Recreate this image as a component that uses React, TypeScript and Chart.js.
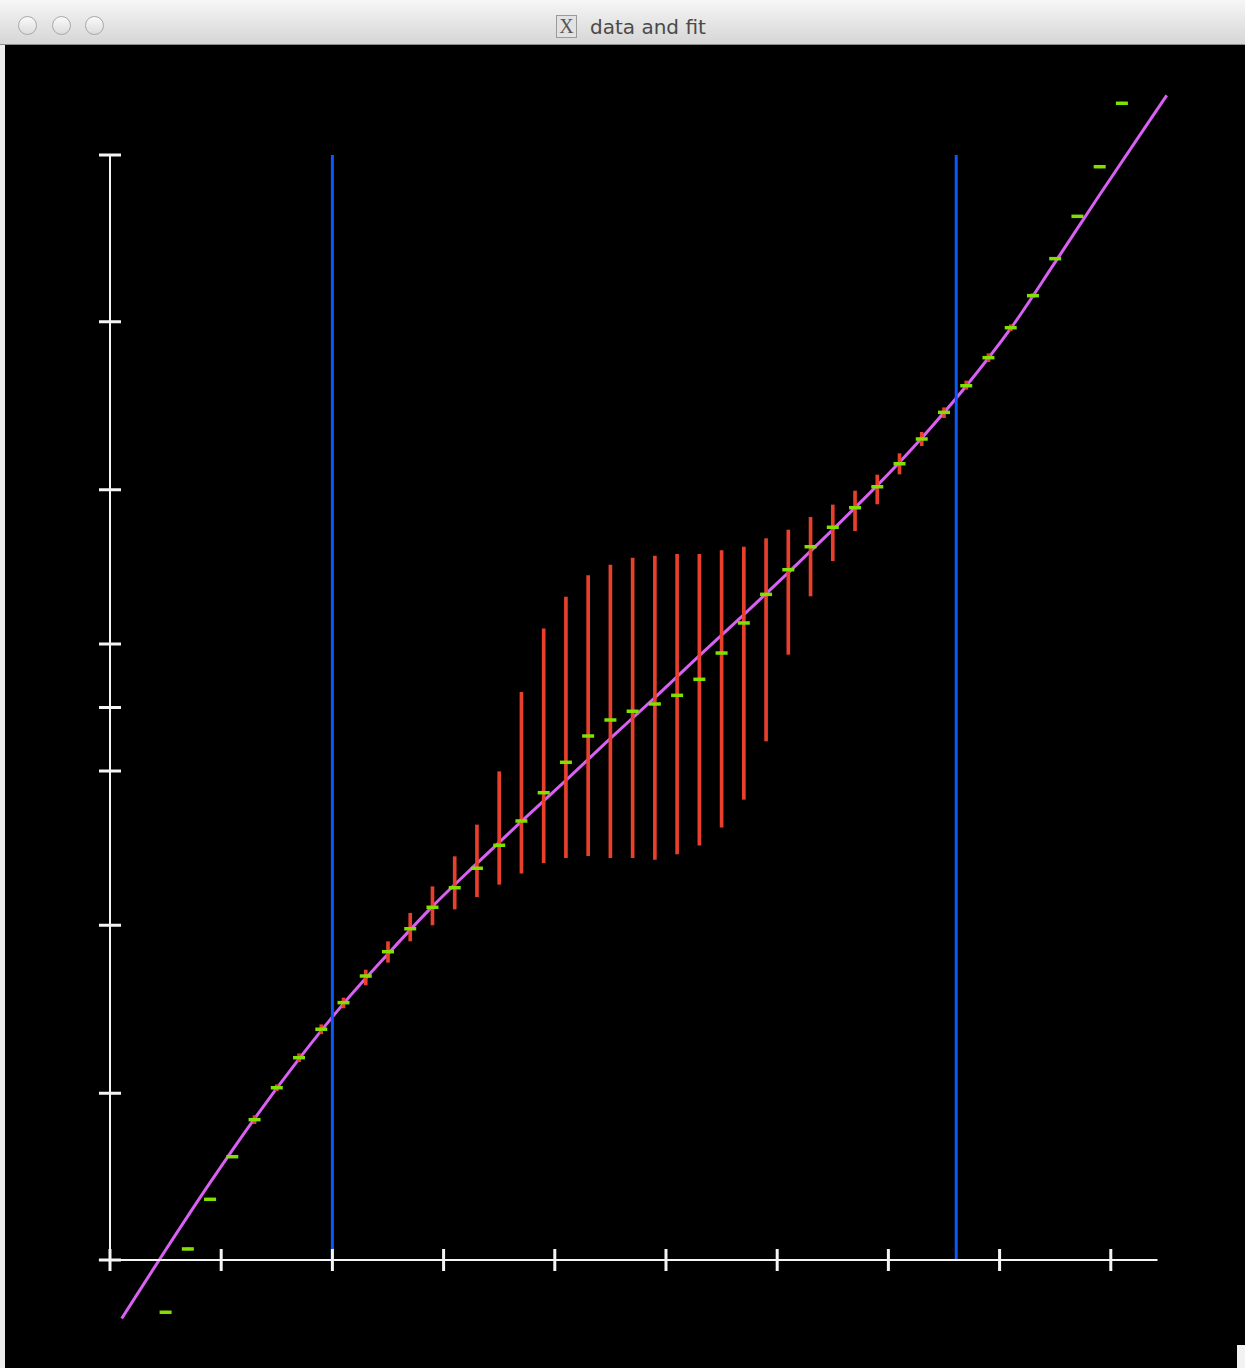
import React, { useEffect, useRef } from "react";
import { Chart, registerables } from "chart.js";

Chart.register(...registerables);

// ---- data (x in tick units, y in axis units; axis runs -5..5) ----
const xValues = [
  0.5, 0.7, 0.9, 1.1, 1.3, 1.5, 1.7, 1.9, 2.1, 2.3, 2.5, 2.7, 2.9, 3.1, 3.3,
  3.5, 3.7, 3.9, 4.1, 4.3, 4.5, 4.7, 4.9, 5.1, 5.3, 5.5, 5.7, 5.9, 6.1, 6.3,
  6.5, 6.7, 6.9, 7.1, 7.3, 7.5, 7.7, 7.9, 8.1, 8.3, 8.5, 8.7, 8.9, 9.1,
];
const yValues = [
  -5.473, -4.9, -4.451, -4.065, -3.73, -3.441, -3.169, -2.912, -2.671, -2.43,
  -2.21, -2.002, -1.808, -1.631, -1.455, -1.247, -1.027, -0.771, -0.496,
  -0.258, -0.113, -0.034, 0.032, 0.11, 0.255, 0.493, 0.765, 1.024, 1.247,
  1.455, 1.631, 1.808, 1.998, 2.206, 2.43, 2.671, 2.912, 3.166, 3.437, 3.727,
  4.062, 4.445, 4.894, 5.468,
];
const errLow = [
  -5.483, -4.91, -4.461, -4.075, -3.766, -3.468, -3.205, -2.953, -2.719,
  -2.511, -2.306, -2.113, -1.968, -1.824, -1.712, -1.6, -1.5, -1.405, -1.359,
  -1.341, -1.359, -1.359, -1.374, -1.326, -1.247, -1.084, -0.831, -0.303,
  0.481, 1.009, 1.329, 1.6, 1.842, 2.113, 2.369, 2.623, 2.88, 3.13, 3.41,
  3.709, 4.052, 4.435, 4.884, 5.458,
];
const errHigh = [
  -5.463, -4.89, -4.441, -4.055, -3.694, -3.414, -3.133, -2.871, -2.629,
  -2.376, -2.119, -1.862, -1.622, -1.35, -1.063, -0.581, 0.138, 0.713, 1.0,
  1.193, 1.29, 1.353, 1.371, 1.386, 1.386, 1.419, 1.452, 1.528, 1.606, 1.721,
  1.833, 1.959, 2.104, 2.297, 2.49, 2.713, 2.955, 3.202, 3.464, 3.745, 4.072,
  4.455, 4.904, 5.478,
];
const fitX = [
  0.105, 0.5, 0.9, 1.3, 1.7, 2.1, 2.5, 2.9, 3.3, 3.7, 4.1, 4.5, 4.9, 5.3, 5.7,
  6.1, 6.5, 6.9, 7.3, 7.7, 8.1, 8.5, 8.9, 9.503,
];
const fitY = [
  -5.53, -4.91, -4.3, -3.72, -3.18, -2.68, -2.23, -1.8, -1.41, -1.03, -0.66,
  -0.28, 0.09, 0.47, 0.84, 1.22, 1.61, 2.01, 2.44, 2.91, 3.43, 4.03, 4.64,
  5.54,
];
const fitRangeX = [2.0, 7.61];
const xTicks = [0, 1, 2, 3, 4, 5, 6, 7, 8, 9];
const yTicks = [-5, -3.49, -1.97, -0.575, 0, 0.575, 1.97, 3.49, 5];
const xAxisExtent = [-0.1, 9.42];
const yAxisExtent = [-5.1, 5];

const axesPlugin = {
  id: "plainAxes",
  afterDatasetsDraw(chart: any) {
    const ctx = chart.ctx;
    const xs = chart.scales.x;
    const ys = chart.scales.y;
    const yBase = ys.getPixelForValue(yTicks[0]);
    const xBase = xs.getPixelForValue(xTicks[0]);
    ctx.save();
    ctx.strokeStyle = "#f4f4f4";
    ctx.lineWidth = 2;
    ctx.beginPath();
    ctx.moveTo(xs.getPixelForValue(xAxisExtent[0]), yBase);
    ctx.lineTo(xs.getPixelForValue(xAxisExtent[1]), yBase);
    ctx.moveTo(xBase, ys.getPixelForValue(yAxisExtent[0]));
    ctx.lineTo(xBase, ys.getPixelForValue(yAxisExtent[1]));
    ctx.stroke();
    ctx.lineWidth = 3;
    ctx.beginPath();
    for (const t of xTicks) {
      const px = xs.getPixelForValue(t);
      ctx.moveTo(px, yBase - 11);
      ctx.lineTo(px, yBase + 11);
    }
    for (const t of yTicks) {
      const py = ys.getPixelForValue(t);
      ctx.moveTo(xBase - 11, py);
      ctx.lineTo(xBase + 11, py);
    }
    ctx.stroke();
    ctx.restore();
  },
};

function ChartCanvas() {
  const ref = useRef<HTMLCanvasElement | null>(null);
  useEffect(() => {
    if (!ref.current) return;
    const points = xValues.map((x, i) => ({ x, y: yValues[i] }));
    const bars = xValues.map((x, i) => ({ x, y: [errLow[i], errHigh[i]] }));
    const fit = fitX.map((x, i) => ({ x, y: fitY[i] }));
    const chart = new Chart(ref.current, {
      type: "scatter",
      data: {
        datasets: [
          {
            type: "scatter",
            label: "data",
            data: points,
            pointStyle: "line",
            pointRadius: 6,
            pointBorderWidth: 3.5,
            pointBorderColor: "#80e000",
            pointBackgroundColor: "#80e000",
            order: 0,
          } as any,
          {
            type: "bar",
            label: "errors",
            data: bars as any,
            backgroundColor: "#e8402c",
            borderWidth: 0,
            barThickness: 3,
            order: 1,
          } as any,
          {
            type: "line",
            label: "low",
            data: [
              { x: fitRangeX[0], y: yTicks[0] },
              { x: fitRangeX[0], y: yTicks[yTicks.length - 1] },
            ],
            borderColor: "#0c58ff",
            borderWidth: 3,
            pointRadius: 0,
            order: 2,
          } as any,
          {
            type: "line",
            label: "high",
            data: [
              { x: fitRangeX[1], y: yTicks[0] },
              { x: fitRangeX[1], y: yTicks[yTicks.length - 1] },
            ],
            borderColor: "#0c58ff",
            borderWidth: 3,
            pointRadius: 0,
            order: 2,
          } as any,
          {
            type: "line",
            label: "fit",
            data: fit,
            borderColor: "#d860f2",
            borderWidth: 3,
            pointRadius: 0,
            cubicInterpolationMode: "monotone",
            order: 3,
          } as any,
        ],
      },
      options: {
        responsive: false,
        maintainAspectRatio: false,
        devicePixelRatio: 1,
        animation: false,
        events: [],
        layout: { padding: 0, autoPadding: false },
        plugins: { legend: { display: false }, tooltip: { enabled: false } },
        scales: {
          x: { type: "linear", min: -0.9442, max: 10.2069, display: false, offset: false },
          y: { type: "linear", min: -5.9774, max: 5.9955, display: false },
        },
      },
      plugins: [axesPlugin],
    });
    return () => chart.destroy();
  }, []);
  return <canvas ref={ref} width={1240} height={1323} style={{ display: "block" }} />;
}

export default function App() {
  const circle = (left: number) => (
    <div
      style={{
        position: "absolute",
        left,
        top: 16,
        width: 19,
        height: 19,
        borderRadius: "50%",
        border: "1px solid #a8a8a8",
        background: "linear-gradient(#fafafa, #dcdcdc)",
        boxSizing: "border-box",
      }}
    />
  );
  return (
    <div
      style={{
        position: "absolute",
        left: 0,
        top: 0,
        width: 1245,
        height: 1368,
        background: "#ededed",
        overflow: "hidden",
      }}
    >
      <div
        style={{
          position: "absolute",
          left: 0,
          top: 0,
          width: 1245,
          height: 44,
          background: "linear-gradient(#f6f6f6, #d6d6d6)",
          borderBottom: "1px solid #8e8e8e",
        }}
      >
        {circle(18)}
        {circle(52)}
        {circle(85)}
        <div
          style={{
            position: "absolute",
            left: 556,
            top: 15,
            width: 21,
            height: 23,
            border: "1px solid #9a9a9a",
            background: "#e2e2e2",
            boxSizing: "border-box",
            fontFamily: "'Liberation Serif', serif",
            fontSize: 20,
            lineHeight: "21px",
            textAlign: "center",
            color: "#555",
          }}
        >
          X
        </div>
        <div
          style={{
            position: "absolute",
            left: 590,
            top: 15,
            fontFamily: "'DejaVu Sans', sans-serif",
            fontSize: 20,
            lineHeight: "24px",
            color: "#4a4a4a",
            whiteSpace: "nowrap",
          }}
        >
          data and fit
        </div>
      </div>
      <div
        style={{
          position: "absolute",
          left: 5,
          top: 45,
          width: 1240,
          height: 1323,
          background: "#000",
        }}
      >
        <ChartCanvas />
      </div>
      <div
        style={{
          position: "absolute",
          left: 1237,
          top: 1345,
          width: 8,
          height: 23,
          background: "#f2f2f2",
        }}
      />
    </div>
  );
}
